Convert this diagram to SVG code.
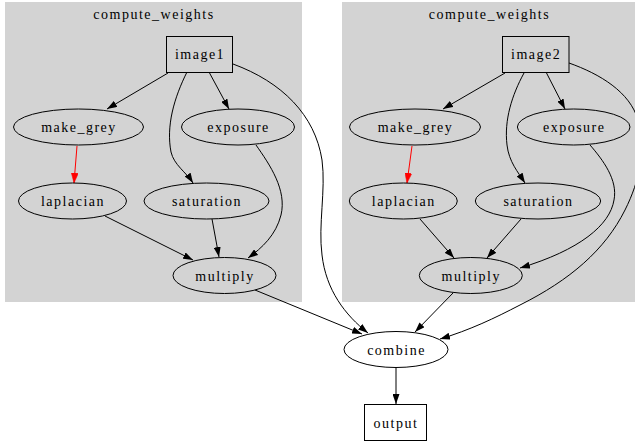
<svg xmlns="http://www.w3.org/2000/svg" width="635" height="445" viewBox="0 0 635 445">
<style>
text{font-family:'Liberation Serif','Times New Roman',serif;font-size:14px;letter-spacing:1.5px;fill:#000;text-anchor:middle}
.cl{fill:#d3d3d3;stroke:none}
.n{fill:#d3d3d3;stroke:#000;stroke-width:1}
.w{fill:#fff;stroke:#000;stroke-width:1}
.e{fill:none;stroke:#000;stroke-width:1;marker-end:url(#a)}
.r{fill:none;stroke:#f00;stroke-width:1;marker-end:url(#ar)}
</style>
<defs>
<marker id="a" viewBox="0 0 10 7" refX="10" refY="3.5" markerWidth="10" markerHeight="7" markerUnits="userSpaceOnUse" orient="auto"><path d="M0,0L10,3.5L0,7z" fill="#000"/></marker>
<marker id="ar" viewBox="0 0 10 7" refX="10" refY="3.5" markerWidth="10" markerHeight="7" markerUnits="userSpaceOnUse" orient="auto"><path d="M0,0L10,3.5L0,7z" fill="#f00" stroke="#f00" stroke-width="0.5"/></marker>
</defs>
<rect width="635" height="445" fill="#fff"/>
<g id="cluster1"><rect class="cl" x="5" y="2" width="297" height="300"/><text x="154" y="19">compute_weights</text></g>
<g id="cluster2"><rect class="cl" x="342" y="2" width="293" height="300"/><text x="489.5" y="19">compute_weights</text></g>
<g id="edges">
<path class="e" d="M168,73L107,109"/>
<path class="e" d="M209,72L229,109"/>
<path class="e" d="M187,72C174,98 166,126 171,152C174,165 186,172 193,183"/>
<path class="e" d="M256,145C270,165 287,190 281,215C276,235 262,248 248,258"/>
<path class="e" d="M212,219L219,257"/>
<path class="e" d="M105,216L193,260"/>
<path class="r" d="M77,146L74,183"/>
<path class="e" d="M505,73L443,109"/>
<path class="e" d="M546,72L565,109"/>
<path class="e" d="M524,73C512,95 504,120 507,145C509,162 518,172 525,183"/>
<path class="e" d="M590,145C603,160 618,180 614,200C610,225 580,250 520,268"/>
<path class="e" d="M420,219L454,258"/>
<path class="e" d="M521,219L487,258"/>
<path class="r" d="M412,146L407,183"/>
<path class="e" d="M255,290L362,334"/>
<path class="e" d="M233,64C282,82 315,115 322,160C326,190 318,225 322,255C326,290 345,315 368,333"/>
<path class="e" d="M453,293L415,332"/>
<path class="e" d="M569,63C600,74 630,92 638,120C646,150 640,180 625,210C605,250 570,280 520,305C495,318 470,330 440,339"/>
<path class="e" d="M396,368L396,404"/>
</g>
<g id="image1"><rect class="n" x="166.5" y="36.5" width="66" height="36"/><text x="200" y="59">image1</text></g>
<g id="make_grey1"><ellipse class="n" cx="78.5" cy="127" rx="65" ry="18"/><text x="79" y="132">make_grey</text></g>
<g id="exposure1"><ellipse class="n" cx="238" cy="127" rx="56.5" ry="18"/><text x="238.5" y="132">exposure</text></g>
<g id="laplacian1"><ellipse class="n" cx="72.5" cy="201" rx="54" ry="18"/><text x="73" y="206">laplacian</text></g>
<g id="saturation1"><ellipse class="n" cx="206.5" cy="201" rx="62.5" ry="18"/><text x="207" y="206">saturation</text></g>
<g id="multiply1"><ellipse class="n" cx="224.5" cy="275.5" rx="51.5" ry="18"/><text x="225" y="280.5">multiply</text></g>
<g id="image2"><rect class="n" x="502.5" y="36.5" width="66.5" height="36"/><text x="536.2" y="59">image2</text></g>
<g id="make_grey2"><ellipse class="n" cx="415" cy="127" rx="65.5" ry="18"/><text x="415.5" y="132">make_grey</text></g>
<g id="exposure2"><ellipse class="n" cx="573.7" cy="127" rx="56.3" ry="18"/><text x="574.2" y="132">exposure</text></g>
<g id="laplacian2"><ellipse class="n" cx="403.3" cy="201" rx="54" ry="18"/><text x="403.8" y="206">laplacian</text></g>
<g id="saturation2"><ellipse class="n" cx="538" cy="201" rx="62.7" ry="18"/><text x="538.5" y="206">saturation</text></g>
<g id="multiply2"><ellipse class="n" cx="470.8" cy="275.5" rx="51.5" ry="18"/><text x="471.3" y="280.5">multiply</text></g>
<g id="combine"><ellipse class="w" cx="396" cy="349.5" rx="52" ry="18"/><text x="396.5" y="354.5">combine</text></g>
<g id="output"><rect class="w" x="364.5" y="404.5" width="62" height="36"/><text x="396" y="427.5">output</text></g>
</svg>
